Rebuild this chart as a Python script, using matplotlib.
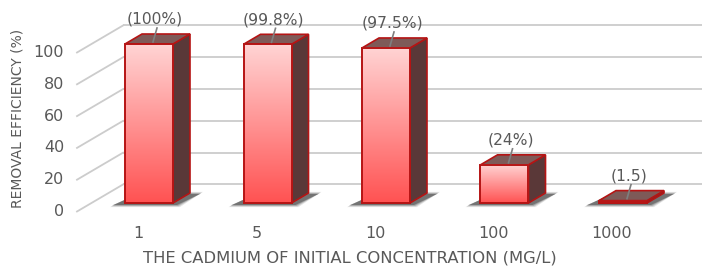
import numpy as np
import matplotlib
matplotlib.use("Agg")
import matplotlib.pyplot as plt
from matplotlib.patches import Polygon, Rectangle
from matplotlib.colors import to_rgba

# ---- data ----
categories = ["1", "5", "10", "100", "1000"]
values = [100, 99.8, 97.5, 24, 1.5]
value_labels = ["(100%)", "(99.8%)", "(97.5%)", "(24%)", "(1.5)"]
y_ticks = [0, 20, 40, 60, 80, 100]
x_title = "THE CADMIUM OF INITIAL CONCENTRATION (MG/L)"
y_title = "REMOVAL EFFICIENCY (%)"

W, H, DPI = 702, 267, 100
fig = plt.figure(figsize=(W / DPI, H / DPI), dpi=DPI)
ax = fig.add_axes([0, 0, 1, 1])
ax.set_axis_off()
XL = (-149 / 118.5, (W - 149) / 118.5)
YL = ((203 - H) / 1.59, 203 / 1.59)
ax.set_xlim(*XL)
ax.set_ylim(*YL)

# pixel -> data scale
p0 = ax.transData.transform((0, 0))
p1 = ax.transData.transform((1, 1))
sx, sy = p1[0] - p0[0], p1[1] - p0[1]
px = lambda d: d / sx
py = lambda d: d / sy

TEXT = "#595959"
GRID = "#cccccc"
EDGE = "#b51414"
SIDE = "#5a3838"
TOP = "#7e5a58"
width = px(48)
DX, DY = px(17), py(10)

xs = np.arange(len(categories))
wall_front_x = xs[0] - px(72)
wall_back_x = xs[0] - px(26)
x_right = XL[1]

# back wall grid + left wall diagonals + tick labels
for v in y_ticks:
    yb = v + py(18.5)
    yf = v - py(8.5)
    ax.plot([wall_back_x, x_right], [yb, yb], color=GRID, lw=1.3, zorder=1,
            solid_capstyle="butt")
    ax.plot([wall_front_x, wall_back_x], [yf, yb], color=GRID, lw=1.3, zorder=1)
    ax.text(wall_front_x - px(13), yf, str(v), ha="right", va="center",
            fontsize=11.5, color=TEXT)

# bars
top_c = np.array(to_rgba("#ffd4d4"))
bot_c = np.array(to_rgba("#ff5252"))
grad = np.linspace(top_c, bot_c, 256).reshape(256, 1, 4)

for x, v in zip(xs, values):
    xl, xr = x - width / 2, x + width / 2
    # soft shadow on the floor
    for k, a in zip(range(4), [0.12, 0.18, 0.26, 0.4]):
        g = 3 - k
        shadow = Polygon([(xl - px(12 + g), -py(2 + g * 0.7)),
                          (xr + px(4 + g), -py(2 + g * 0.7)),
                          (xr + DX + px(10 + g), DY - py(1 - g * 0.7)),
                          (xl + DX - px(4 - g), DY - py(1 - g * 0.7))],
                         closed=True, facecolor="#333333", edgecolor="none",
                         alpha=a, zorder=2)
        ax.add_patch(shadow)
    side = Polygon([(xr, 0), (xr + DX, DY), (xr + DX, v + DY), (xr, v)],
                   closed=True, facecolor=SIDE, edgecolor=EDGE, lw=1.2, zorder=3)
    ax.add_patch(side)
    top = Polygon([(xl, v), (xr, v), (xr + DX, v + DY), (xl + DX, v + DY)],
                  closed=True, facecolor=TOP, edgecolor=EDGE, lw=1.2, zorder=3)
    ax.add_patch(top)
    if v > 0:
        ax.imshow(grad, extent=(xl, xr, 0, v), origin="upper", aspect="auto",
                  zorder=4, interpolation="bilinear")
    ax.add_patch(Rectangle((xl, 0), width, v, facecolor="none",
                           edgecolor=EDGE, lw=1.4, zorder=5))

# value labels with leader lines
for x, v, lab in zip(xs, values, value_labels):
    ax.text(x + px(6), v + py(24.5), lab, ha="center", va="center",
            fontsize=11.2, color=TEXT, zorder=7)
    ax.plot([x + px(8), x + px(4)], [v + py(16), v + py(2)],
            color="#7f7f7f", lw=1.2, zorder=6)

# category labels
for x, c in zip(xs, categories):
    ax.text(x - px(11), -py(30), c, ha="center", va="center",
            fontsize=11.5, color=TEXT)

ax.set_xlim(*XL)
ax.set_ylim(*YL)

fig.text(350 / W, 1 - 258 / H, x_title, ha="center", va="center",
         fontsize=11.8, color=TEXT)
fig.text(18 / W, 1 - 118 / H, y_title, ha="center", va="center",
         rotation=90, fontsize=10, color=TEXT)

fig.savefig("out.png", dpi=DPI)
